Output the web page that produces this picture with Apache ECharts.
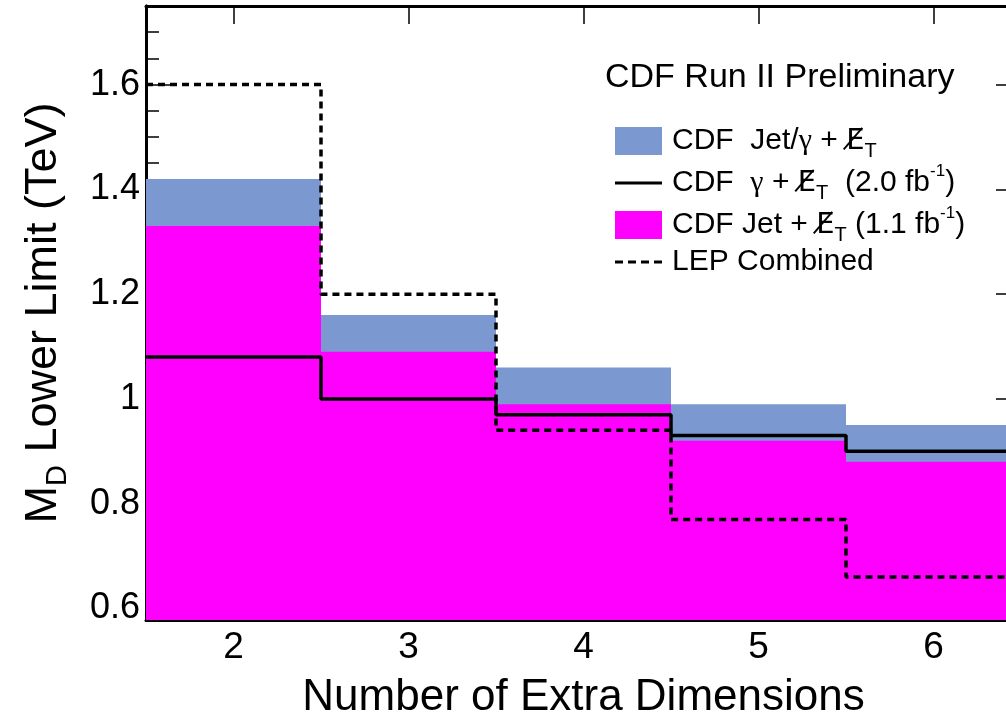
<!DOCTYPE html>
<html>
<head>
<meta charset="utf-8">
<script src="https://cdn.jsdelivr.net/npm/echarts@6/dist/echarts.min.js"></script>
<style>
  html, body { margin: 0; padding: 0; background: #fff; }
  #chart { width: 1006px; height: 717px; }
</style>
</head>
<body>
<div id="chart"></div>
<script>
// number of extra dimensions (bin centres)
const dims = [2, 3, 4, 5, 6];
// M_D lower limits in TeV
const jetGamma = [1.42, 1.16, 1.06, 0.99, 0.95];
const jetOnly = [1.33, 1.09, 0.99, 0.92, 0.88];
const gammaOnly = [1.08, 1.00, 0.97, 0.93, 0.90];
const lepComb = [1.60, 1.20, 0.94, 0.77, 0.66];

const xTicks = [2, 3, 4, 5, 6];
const yMajor = [0.6, 0.8, 1.0, 1.2, 1.4, 1.6];
const yMinor = [0.6, 0.65, 0.7, 0.75, 0.8, 0.85, 0.9, 0.95, 1.0, 1.05, 1.1, 1.15,
  1.2, 1.25, 1.3, 1.35, 1.4, 1.45, 1.5, 1.55, 1.6, 1.65, 1.7];

const labels = {
  jg: '{q|CDF}{t|  Jet/}{g|γ}{t| + }{e|E\u0338}{s|T}',
  g: '{q|CDF}{t|  }{g|γ}{t| + }{e|E\u0338}{s|T}{t|  (2.0 fb}{p|-1}{t|)}',
  j: '{q|CDF}{t| Jet + }{e|E\u0338}{s|T}{t| (1.1 fb}{p|-1}{t|)}',
  lep: '{v|LEP Combined}',
};

// histogram-like steps: left edge of each bin, plus right edge of the last one
const toSteps = (vals) => {
  const pts = vals.map((v, i) => [dims[i] - 0.5, v]);
  pts.push([dims[dims.length - 1] + 0.5, vals[vals.length - 1]]);
  return pts;
};

const font = 'Liberation Sans, Arial, Helvetica, sans-serif';
const chart = echarts.init(document.getElementById('chart'), null, { renderer: 'canvas' });

// legend icons for the two line entries (bounding box kept at 47x28 by the lone moves)
const solidIcon = 'path://M0,0 M47,28 M0,12.5 L47,12.5 L47,15.5 L0,15.5 Z';
const dashIcon = 'path://M0,0 M47,28 M0,12.5 L8,12.5 L8,15.5 L0,15.5 Z M13,12.5 L21,12.5 L21,15.5 L13,15.5 Z'
  + ' M26,12.5 L34,12.5 L34,15.5 L26,15.5 Z M39,12.5 L47,12.5 L47,15.5 L39,15.5 Z';

const xBase = {
  type: 'value', min: 1.5, max: 6.5,
  splitLine: { show: false },
  axisLine: { lineStyle: { color: '#000', width: 3 } },
};
const yBase = {
  type: 'value', min: 0.578, max: 1.75,
  splitLine: { show: false },
  axisLine: { lineStyle: { color: '#000', width: 3 } },
};

const txt = { fontFamily: font, fontSize: 30, color: '#000', lineHeight: 40 };

const option = {
  animation: false,
  backgroundColor: '#fff',
  title: {
    text: 'CDF Run II Preliminary',
    left: 600, top: 56,
    textStyle: { fontFamily: font, fontSize: 34, fontWeight: 'normal', color: '#000' },
  },
  grid: { left: 146, top: 6, width: 875, height: 614, outerBoundsMode: 'none', containLabel: false },
  legend: {
    orient: 'vertical',
    left: 610, top: 121,
    itemWidth: 47, itemHeight: 28, itemGap: 2,
    textStyle: {
      fontFamily: font, fontSize: 30, color: '#000',
      rich: {
        t: txt,
        q: { ...txt, padding: [0, 0, 0, 5] },
        v: { ...txt, lineHeight: 50, padding: [0, 0, 0, 5] },
        g: { ...txt, fontFamily: 'Liberation Serif, serif' },
        e: { fontFamily: 'DejaVu Sans', fontSize: 29, color: '#000', lineHeight: 40 },
        s: { fontFamily: font, fontSize: 20, color: '#000', lineHeight: 20, verticalAlign: 'bottom' },
        p: { fontFamily: font, fontSize: 17, color: '#000', lineHeight: 16, verticalAlign: 'top' },
      },
    },
    formatter: (name) => labels[name],
    data: [
      { name: 'jg', icon: 'rect' },
      { name: 'g', icon: solidIcon },
      { name: 'j', icon: 'rect' },
      { name: 'lep', icon: dashIcon },
    ],
  },
  xAxis: [
    {
      ...xBase,
      position: 'bottom',
      name: 'Number of Extra Dimensions',
      nameLocation: 'middle',
      nameGap: 56,
      nameTextStyle: { fontFamily: font, fontSize: 44, color: '#000' },
      axisTick: { inside: true, length: 18, customValues: xTicks, lineStyle: { color: '#000', width: 1.5 } },
      axisLabel: { customValues: xTicks, fontFamily: font, fontSize: 37, color: '#000', margin: 9 },
    },
    {
      ...xBase,
      position: 'top',
      axisTick: { inside: true, length: 18, customValues: xTicks, lineStyle: { color: '#000', width: 1.5 } },
      axisLabel: { show: false },
    },
  ],
  yAxis: [
    {
      ...yBase,
      position: 'left',
      name: '{a|M}{b|D}{a| Lower Limit (TeV)}',
      nameLocation: 'middle',
      nameGap: 74,
      nameTextStyle: {
        rich: {
          a: { fontFamily: font, fontSize: 45, color: '#000', lineHeight: 56 },
          b: { fontFamily: font, fontSize: 29, color: '#000', lineHeight: 28, verticalAlign: 'bottom' },
        },
      },
      axisTick: { inside: true, length: 25, customValues: yMajor, lineStyle: { color: '#000', width: 1.5 } },
      axisLabel: { customValues: yMajor, fontFamily: font, fontSize: 36, color: '#000', margin: 6 },
    },
    {
      ...yBase,
      position: 'left',
      axisTick: { inside: true, length: 13, customValues: yMinor, lineStyle: { color: '#000', width: 1.5 } },
      axisLabel: { show: false },
    },
    {
      ...yBase,
      position: 'right',
      axisTick: { inside: true, length: 25, customValues: yMajor, lineStyle: { color: '#000', width: 1.5 } },
      axisLabel: { show: false },
    },
    {
      ...yBase,
      position: 'right',
      axisTick: { inside: true, length: 13, customValues: yMinor, lineStyle: { color: '#000', width: 1.5 } },
      axisLabel: { show: false },
    },
  ],
  series: [
    {
      name: 'jg', type: 'line', step: 'end', symbol: 'none',
      data: toSteps(jetGamma),
      itemStyle: { color: '#7b98d0' },
      lineStyle: { width: 0 },
      areaStyle: { color: '#7b98d0', opacity: 1, origin: 'start' },
      z: 1,
    },
    {
      name: 'j', type: 'line', step: 'end', symbol: 'none',
      data: toSteps(jetOnly),
      itemStyle: { color: '#ff00ff' },
      lineStyle: { width: 0 },
      areaStyle: { color: '#ff00ff', opacity: 1, origin: 'start' },
      z: 2,
    },
    {
      name: 'g', type: 'line', step: 'end', symbol: 'none',
      data: toSteps(gammaOnly),
      itemStyle: { color: '#000' },
      lineStyle: { color: '#000', width: 3.5 },
      z: 3,
    },
    {
      name: 'lep', type: 'line', step: 'end', symbol: 'none',
      data: toSteps(lepComb),
      itemStyle: { color: '#000' },
      lineStyle: { color: '#000', width: 3.5, type: [7, 5] },
      z: 4,
    },
  ],
};

chart.setOption(option);
</script>
</body>
</html>
